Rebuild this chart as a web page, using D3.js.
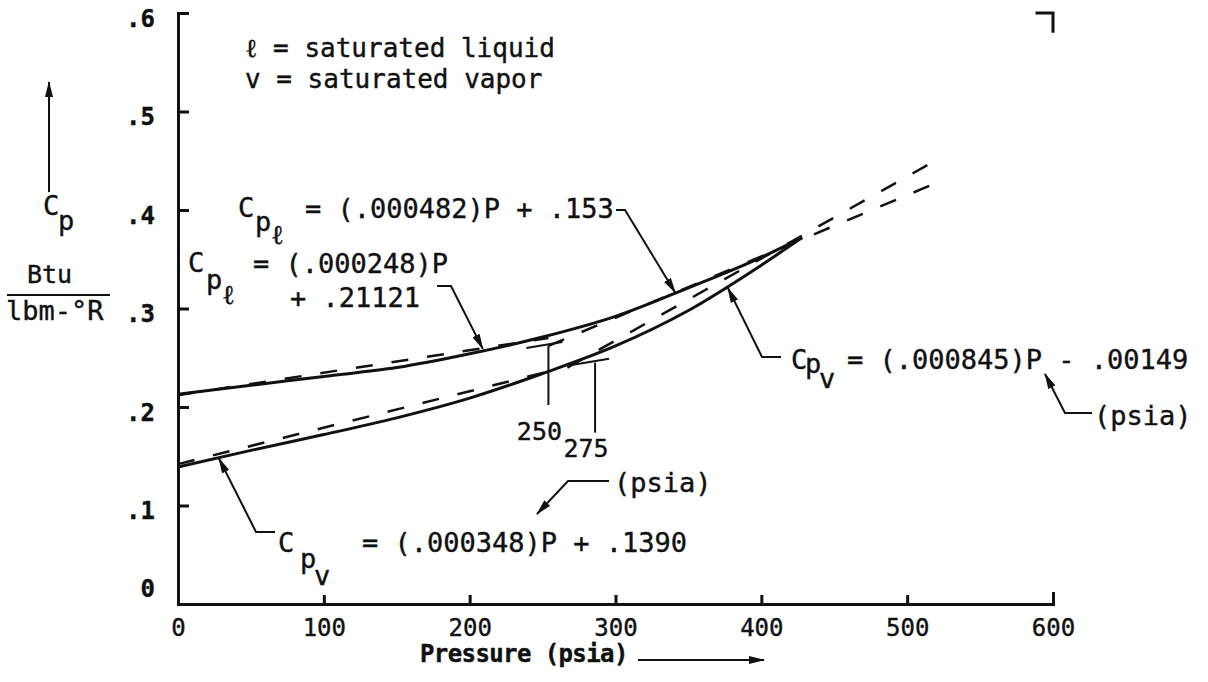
<!DOCTYPE html>
<html>
<head>
<meta charset="utf-8">
<script src="https://cdn.jsdelivr.net/npm/d3@7"></script>
<style>
  body { margin: 0; background: #fff; }
  svg { display: block; }
  text { font-family: "DejaVu Sans Mono", monospace; fill: #111; stroke: #111; stroke-width: 0.4px; }
</style>
</head>
<body>
<svg id="chart" width="1208" height="682"></svg>
<script>
// Data
const pressure = [0, 50, 100, 150, 200, 250, 300, 350, 400, 428];
const cpLiquid = [0.213, 0.222, 0.231, 0.240, 0.254, 0.271, 0.292, 0.321, 0.352, 0.372];
const cpVapor = [0.139, 0.156, 0.172, 0.189, 0.209, 0.234, 0.262, 0.298, 0.344, 0.372];

// straight line fits (dashed), [P, Cp] end points
const fitLiquidLow = [[0, 0.212], [254, 0.27]];
const fitLiquidHigh = [[254, 0.262], [516, 0.425]];
const fitVaporLow = [[0, 0.142], [254, 0.236]];
const fitVaporHigh = [[267, 0.24], [518, 0.449]];

// where the fits change over
const splitP = [254, 286];
const splitTop = [0.262, 0.245];
const splitBottom = [0.202, 0.174];
const splitLabels = ['250', '275'];

const xTicks = [0, 100, 200, 300, 400, 500, 600];
const yTicks = [0, 0.1, 0.2, 0.3, 0.4, 0.5, 0.6];

// Scales
const x = d3.scaleLinear().domain([0, 600]).range([178, 1053]);
const y = d3.scaleLinear().domain([0, 0.6]).range([604, 13]);

const svg = d3.select('#chart');

svg
  .append('defs')
  .append('marker')
  .attr('id', 'head')
  .attr('viewBox', '0 0 16 8')
  .attr('refX', 15)
  .attr('refY', 4)
  .attr('markerWidth', 16)
  .attr('markerHeight', 8)
  .attr('markerUnits', 'userSpaceOnUse')
  .attr('orient', 'auto')
  .append('path')
  .attr('d', 'M0,0L16,4L0,8z')
  .attr('fill', '#111');

// Axes
const yAxis = svg
  .append('g')
  .attr('transform', `translate(${x(0)},0)`)
  .call(
    d3
      .axisLeft(y)
      .tickValues(yTicks)
      .tickSize(-11)
      .tickSizeOuter(-11)
      .tickPadding(23)
      .tickFormat((d) => (d === 0 ? '0' : '.' + Math.round(d * 10)))
  );

const xAxis = svg
  .append('g')
  .attr('transform', `translate(0,${y(0)})`)
  .call(
    d3
      .axisBottom(x)
      .tickValues(xTicks)
      .tickSize(-9)
      .tickSizeOuter(-12)
      .tickPadding(15)
  );

[yAxis, xAxis].forEach((g) => {
  g.attr('font-family', null).attr('font-size', null);
  g.select('.domain').attr('stroke', '#111').attr('stroke-width', 3);
  g.selectAll('.tick line').attr('stroke', '#111').attr('stroke-width', 3);
  g.selectAll('.tick text').style('font-size', '24px').attr('fill', '#111');
});
yAxis
  .selectAll('.tick text')
  .style('font-weight', 'bold')
  .attr('dy', (d) => (d === 0 ? '-0.3em' : '0.56em'));

// top right corner mark
svg
  .append('path')
  .attr('d', `M${x(588)},${y(0.6)}H${x(600)}V${y(0.58)}`)
  .attr('fill', 'none')
  .attr('stroke', '#111')
  .attr('stroke-width', 3);

// Fits (dashed)
const straight = d3
  .line()
  .x((d) => x(d[0]))
  .y((d) => y(d[1]));

svg
  .append('g')
  .selectAll('path')
  .data([fitLiquidLow, fitLiquidHigh, fitVaporLow, fitVaporHigh])
  .enter()
  .append('path')
  .attr('d', straight)
  .attr('fill', 'none')
  .attr('stroke', '#111')
  .attr('stroke-width', 2.5)
  .attr('stroke-dasharray', '17 19');

// Saturation curves (solid)
const curve = d3
  .line()
  .x((d) => x(d[0]))
  .y((d) => y(d[1]))
  .curve(d3.curveMonotoneX);

svg
  .append('g')
  .selectAll('path')
  .data([d3.zip(pressure, cpLiquid), d3.zip(pressure, cpVapor)])
  .enter()
  .append('path')
  .attr('d', curve)
  .attr('fill', 'none')
  .attr('stroke', '#111')
  .attr('stroke-width', 3);

// Change-over marks (250 / 275)
const splits = svg.append('g').selectAll('g').data(splitP).enter().append('g');
splits
  .append('line')
  .attr('x1', (d) => x(d))
  .attr('x2', (d) => x(d))
  .attr('y1', (d, i) => y(splitTop[i]))
  .attr('y2', (d, i) => y(splitBottom[i]))
  .attr('stroke', '#111')
  .attr('stroke-width', 2);
splits
  .append('line')
  .attr('x1', (d) => x(d) - 22)
  .attr('x2', (d) => x(d) + 14)
  .attr('y1', (d, i) => y(splitTop[i]) + 2)
  .attr('y2', (d, i) => y(splitTop[i]) - 4)
  .attr('stroke', '#111')
  .attr('stroke-width', 2);
splits
  .append('text')
  .attr('x', (d) => x(d) - 9)
  .attr('y', (d, i) => y(splitBottom[i]) + (i === 0 ? 35 : 24))
  .attr('text-anchor', 'middle')
  .style('font-size', '25px')
  .text((d, i) => splitLabels[i]);

// Text helper
const label = (str, px, py, size = 27) =>
  svg
    .append('text')
    .attr('x', px)
    .attr('y', py)
    .style('font-size', size + 'px')
    .text(str);

const leader = (d, arrow = true) =>
  svg
    .append('path')
    .attr('d', d)
    .attr('fill', 'none')
    .attr('stroke', '#111')
    .attr('stroke-width', 2)
    .attr('marker-end', arrow ? 'url(#head)' : null);

// Legend
label('\u2113 = saturated liquid', 245, 57, 26);
label('v = saturated vapor', 245, 88, 26);

// y label
label('C', 43, 215);
label('p', 58, 230);
leader('M49,192V82');
label('Btu', 27, 283, 25);
svg
  .append('line')
  .attr('x1', 7)
  .attr('x2', 110)
  .attr('y1', 295)
  .attr('y2', 295)
  .attr('stroke', '#111')
  .attr('stroke-width', 2);
label('lbm-\u00b0R', 6, 320);

// x label
label('Pressure (psia)', 420, 662, 24).style('letter-spacing', '-0.6px').style('font-weight', 'bold');
leader('M638,660H764');

// Equation: liquid, high range
label('C', 238, 217);
label('p', 255, 231);
label('\u2113', 271, 244);
label('= (.000482)P + .153', 305, 218);
leader(`M616,210H625L${x(341)},${y(0.316)}`);

// Equation: liquid, low range
label('C', 188, 272);
label('p', 206, 289);
label('\u2113', 222, 304);
label('= (.000248)P', 253, 273);
label('+ .21121', 290, 307);
leader(`M437,286H451L${x(209)},${y(0.259)}`);

// Equation: vapor, low range
label('C', 278, 552);
label('p', 300, 568);
label('v', 314, 585);
label('= (.000348)P + .1390', 362, 552);
leader(`M275,532H256L${x(28)},${y(0.148)}`);
label('(psia)', 614, 492);
leader('M609,481H568L537,514');

// Equation: vapor, high range
label('C', 791, 369);
label('p', 805, 373);
label('v', 819, 388);
label('= (.000845)P - .00149', 847, 369);
leader(`M781,357H762L${x(377)},${y(0.321)}`);
label('(psia)', 1094, 425);
leader('M1092,413H1065L1045,374');
</script>
</body>
</html>
